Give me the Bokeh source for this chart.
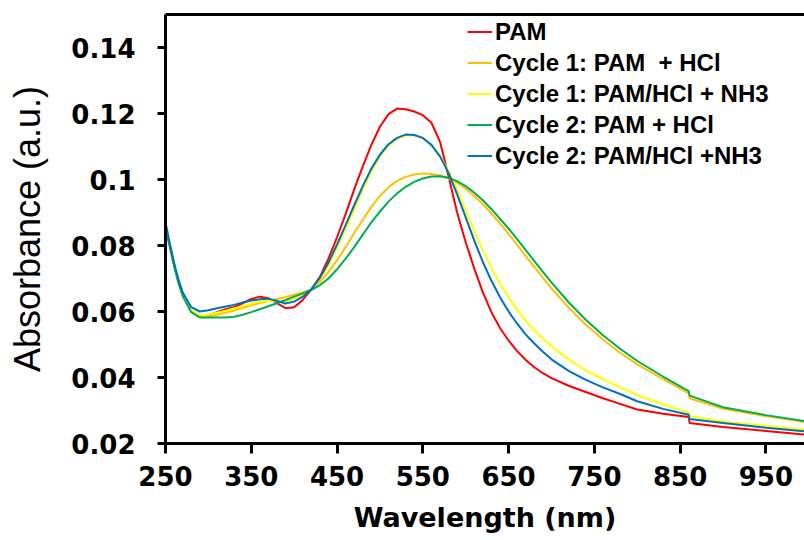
from bokeh.plotting import figure
from bokeh.models import Legend, LegendItem, LinearAxis, FixedTicker, Range1d
from bokeh.embed import file_html
from bokeh.resources import INLINE

wavelength = [250, 255, 260, 265, 270, 280, 290, 300, 310, 320, 330, 340, 350, 360, 370,
              380, 390, 400, 410, 420, 430, 440, 450, 460, 470, 480, 490, 500, 510, 520,
              530, 540, 550, 560, 570, 580, 590, 600, 610, 620, 630, 640, 650, 660, 670,
              680, 690, 700, 720, 740, 760, 780, 800, 830, 860, 861, 900, 950, 1000]

pam = [.0860, .0800, .0742, .0692, .0652, .0600, .0583, .0588, .0598, .0607, .0613, .0625, .0638, .0645, .0640,
       .0625, .0610, .0613, .0635, .0667, .0705, .0760, .0825, .0895, .0970, .1040, .1105, .1160, .1198, .1215,
       .1213, .1206, .1195, .1172, .1115, .1010, .0900, .0810, .0730, .0658, .0598, .0550, .0512, .0480, .0453,
       .0431, .0413, .0398, .0375, .0356, .0337, .0320, .0303, .0290, .0280, .0262, .0250, .0238, .0226]

c1_hcl = [.0860, .0800, .0742, .0692, .0652, .0602, .0584, .0585, .0590, .0596, .0603, .0611, .0619, .0626, .0632,
          .0638, .0644, .0651, .0658, .0667, .0690, .0720, .0755, .0795, .0838, .0878, .0917, .0950, .0977, .0996,
          .1008, .1015, .1018, .1017, .1012, .1003, .0990, .0972, .0950, .0925, .0897, .0867, .0835, .0802, .0768,
          .0735, .0702, .0670, .0612, .0560, .0515, .0475, .0440, .0395, .0352, .0337, .0305, .0283, .0263]

c1_nh3 = [.0860, .0800, .0742, .0692, .0652, .0604, .0588, .0590, .0596, .0602, .0609, .0616, .0624, .0630, .0632,
          .0631, .0632, .0640, .0652, .0667, .0698, .0740, .0792, .0850, .0910, .0970, .1025, .1070, .1103, .1123,
          .1133, .1133, .1125, .1105, .1072, .1025, .0970, .0905, .0843, .0785, .0732, .0685, .0643, .0605, .0572,
          .0543, .0518, .0495, .0455, .0422, .0395, .0370, .0347, .0318, .0293, .0283, .0267, .0254, .0241]

c2_hcl = [.0855, .0795, .0737, .0687, .0647, .0598, .0582, .0582, .0582, .0582, .0584, .0590, .0598, .0607, .0616,
          .0625, .0635, .0645, .0655, .0665, .0680, .0700, .0728, .0760, .0795, .0833, .0870, .0903, .0933, .0958,
          .0978, .0993, .1003, .1009, .1010, .1005, .0995, .0980, .0960, .0937, .0910, .0881, .0851, .0819, .0786,
          .0753, .0720, .0688, .0628, .0575, .0528, .0487, .0450, .0403, .0359, .0345, .0310, .0286, .0266]

c2_nh3 = [.0870, .0807, .0748, .0698, .0658, .0613, .0600, .0604, .0610, .0615, .0620, .0627, .0633, .0637, .0639,
          .0632, .0624, .0630, .0645, .0667, .0702, .0748, .0803, .0862, .0922, .0980, .1033, .1075, .1107, .1126,
          .1136, .1135, .1126, .1105, .1070, .1020, .0955, .0885, .0815, .0750, .0693, .0643, .0600, .0563, .0530,
          .0503, .0478, .0455, .0420, .0393, .0370, .0350, .0328, .0305, .0287, .0274, .0262, .0248, .0236]

series_names = ["PAM", "Cycle 1: PAM  + HCl", "Cycle 1: PAM/HCl + NH3",
                "Cycle 2: PAM + HCl", "Cycle 2: PAM/HCl +NH3"]
series_values = [pam, c1_hcl, c1_nh3, c2_hcl, c2_nh3]
series_colors = ["#FF0000", "#FFC000", "#FFFF00", "#00B050", "#0070C0"]

x_ticks = [250, 350, 450, 550, 650, 750, 850, 950]
y_ticks = [0.02, 0.04, 0.06, 0.08, 0.10, 0.12, 0.14]
y_tick_labels = {0.02: "0.02", 0.04: "0.04", 0.06: "0.06", 0.08: "0.08",
                 0.10: "0.1", 0.12: "0.12", 0.14: "0.14"}

p = figure(width=804, height=540, output_backend="svg", toolbar_location=None,
           x_range=Range1d(250, 995), y_range=Range1d(0.02, 0.15),
           min_border_left=165, min_border_right=0, min_border_top=14, min_border_bottom=97)
p.outline_line_color = None
p.grid.visible = False
p.background_fill_color = "white"
p.border_fill_color = "white"

items = []
for name, vals, col in zip(series_names, series_values, series_colors):
    r = p.line(wavelength, vals, line_color=col, line_width=2)
    items.append(LegendItem(label=name, renderers=[r]))

tick_font = "DejaVu Sans"
xa = p.xaxis[0]
xa.ticker = FixedTicker(ticks=x_ticks)
xa.axis_line_width = 3
xa.major_tick_line_width = 3
xa.major_tick_out = 10
xa.major_tick_in = 0
xa.minor_tick_line_color = None
xa.major_label_text_font = tick_font
xa.major_label_text_font_style = "bold"
xa.major_label_text_font_size = "26px"
xa.major_label_text_color = "black"
xa.major_label_standoff = 12
xa.axis_label = "Wavelength (nm)"
xa.axis_label_text_font = tick_font
xa.axis_label_text_font_style = "bold"
xa.axis_label_text_font_size = "27px"
xa.axis_label_text_color = "black"
xa.axis_label_standoff = 13

ya = p.yaxis[0]
ya.ticker = FixedTicker(ticks=y_ticks)
ya.major_label_overrides = y_tick_labels
ya.axis_line_width = 3
ya.major_tick_line_width = 3
ya.major_tick_out = 8
ya.major_tick_in = 0
ya.minor_tick_line_color = None
ya.major_label_text_font = tick_font
ya.major_label_text_font_style = "bold"
ya.major_label_text_font_size = "26px"
ya.major_label_text_color = "black"
ya.major_label_standoff = 22
ya.axis_label = "Absorbance (a.u.)"
ya.axis_label_text_font = "Liberation Sans"
ya.axis_label_text_font_style = "normal"
ya.axis_label_text_font_size = "36px"
ya.axis_label_text_color = "black"
ya.axis_label_standoff = 20

top = LinearAxis(ticker=FixedTicker(ticks=[]), axis_line_width=3,
                 major_tick_out=0, major_tick_in=0, minor_tick_out=0, minor_tick_in=0,
                 major_label_text_font_size="0px", major_label_standoff=0)
p.add_layout(top, "above")

legend = Legend(items=items, location=(302, 272), orientation="vertical",
                label_text_font="Liberation Sans", label_text_font_style="bold",
                label_text_font_size="24px", label_text_color="black",
                label_height=31, glyph_height=31, glyph_width=25, label_standoff=3,
                spacing=0, padding=0, margin=0,
                border_line_color=None, background_fill_alpha=0)
p.add_layout(legend, "center")

open("out.html", "w").write(file_html(p, INLINE))
